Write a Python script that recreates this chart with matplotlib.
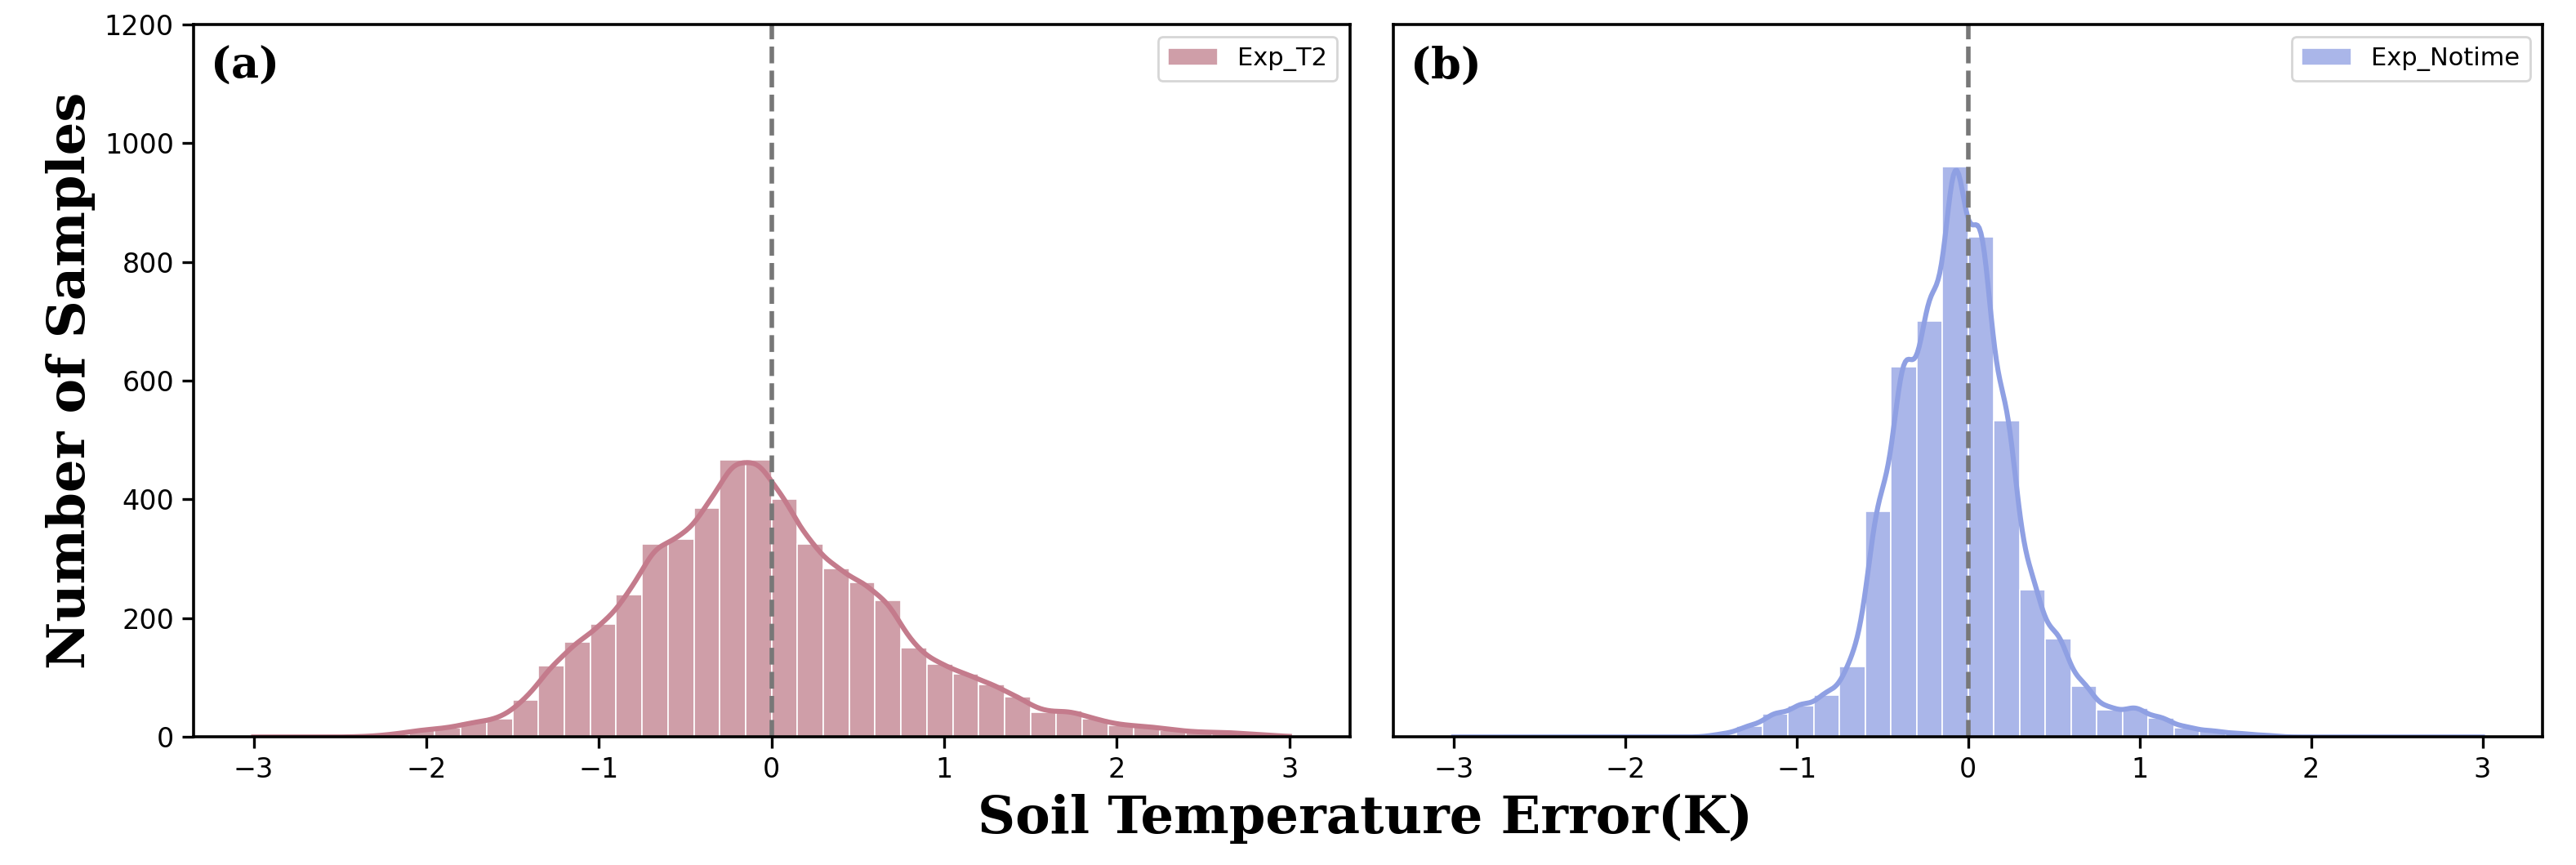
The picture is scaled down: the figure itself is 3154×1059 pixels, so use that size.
import numpy as np
import matplotlib
matplotlib.use("Agg")
import matplotlib.pyplot as plt

# Histogram bin edges: 40 bins of width 0.15 from -3 to 3
bin_edges = np.linspace(-3, 3, 41)

# Counts
counts_t2 = [0, 0, 0, 0, 1, 5, 12, 15, 25, 30,
             62, 120, 160, 190, 240, 325, 333, 385, 467, 467,
             400, 325, 284, 260, 230, 150, 123, 106, 89, 68,
             41, 45, 30, 20, 18, 12, 8, 8, 5, 2]
counts_notime = [0, 0, 0, 0, 0, 0, 0, 0, 0, 0,
                 5, 18, 39, 53, 71, 119, 380, 623, 700, 960,
                 842, 532, 248, 166, 85, 46, 49, 32, 16, 10,
                 6, 3, 0, 0, 0, 0, 0, 0, 0, 0]

panels = [
    ("(a)", "Exp_T2", counts_t2, "#cf9ea8", "#c47b8c", 0.09),
    ("(b)", "Exp_Notime", counts_notime, "#aab6e9", "#8fa0e3", 0.07),
]


def smooth_curve(edges, counts, bw, x):
    """Gaussian-smoothed line through the histogram counts."""
    centers = 0.5 * (edges[:-1] + edges[1:])
    width = edges[1] - edges[0]
    c = np.asarray(counts, dtype=float)
    k = np.exp(-0.5 * ((x[:, None] - centers[None, :]) / bw) ** 2)
    k /= np.sqrt(2 * np.pi) * bw
    return (k * c[None, :]).sum(axis=1) * width


fig = plt.figure(figsize=(15.77, 5.295), dpi=200)
positions = [[0.075, 0.148, 0.449, 0.824], [0.541, 0.148, 0.446, 0.824]]
serif = {"family": "DejaVu Serif", "weight": "bold"}

for i, (tag, name, counts, fill, line, bw) in enumerate(panels):
    ax = fig.add_axes(positions[i])
    widths = np.diff(bin_edges)
    ax.bar(bin_edges[:-1], counts, width=widths, align="edge",
           color=fill, edgecolor="white", linewidth=0.6, label=name)
    xs = np.linspace(-3, 3, 600)
    ax.plot(xs, smooth_curve(bin_edges, counts, bw, xs), color=line, lw=2.2)
    ax.axvline(0, color="#777777", ls="--", lw=2)
    ax.set_xlim(-3.35, 3.35)
    ax.set_ylim(0, 1200)
    ax.set_xticks(range(-3, 4))
    ax.tick_params(labelsize=12, length=5, width=1.2)
    for s in ax.spines.values():
        s.set_linewidth(1.3)
    if i == 0:
        ax.set_yticks(range(0, 1201, 200))
        ax.set_ylabel("Number of Samples", fontsize=23, **serif)
    else:
        ax.set_yticks([])
    ax.text(0.015, 0.97, tag, transform=ax.transAxes, ha="left", va="top",
            fontsize=19, **serif)
    ax.legend(loc="upper right", fontsize=11)

fig.text(0.53, 0.025, "Soil Temperature Error(K)", ha="center", va="bottom",
         fontsize=23, **serif)

fig.savefig("out.png", dpi=200)
